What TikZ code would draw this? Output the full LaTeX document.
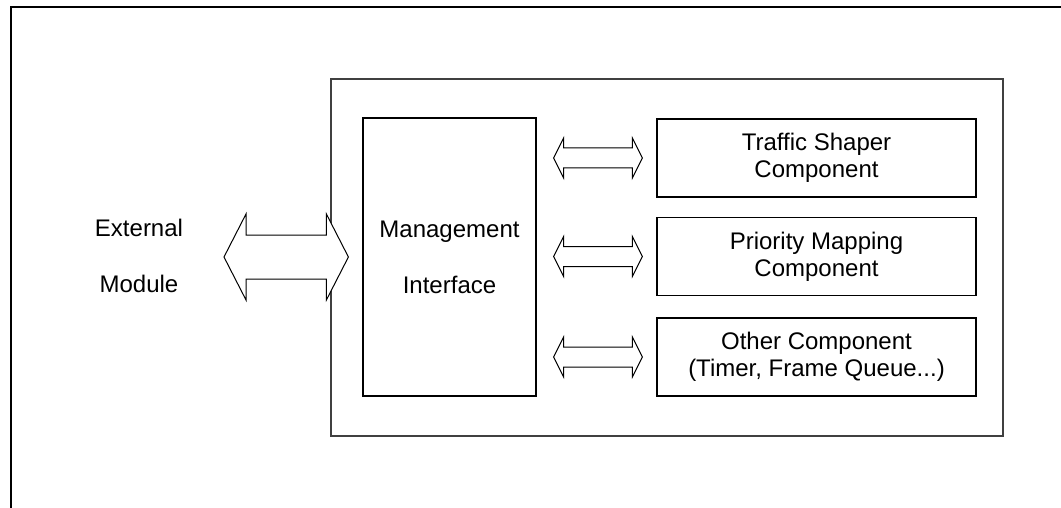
\documentclass[tikz,border=0pt]{standalone}
\usepackage{fontspec}
\setmainfont{Liberation Sans}
\usetikzlibrary{calc}

% Double-headed block arrow between two tip points:
% #1 left tip, #2 right tip, #3 shaft half-height, #4 head half-height, #5 head length
\newcommand\blkarrow[5]{%
  \draw[blockarrow] let \p1=(#1), \p2=(#2) in
    (\x1,\y1) -- (\x1+#5,\y1+#4) -- (\x1+#5,\y1+#3) -- (\x2-#5,\y1+#3)
    -- (\x2-#5,\y1+#4) -- (\x2,\y1) -- (\x2-#5,\y1-#4) -- (\x2-#5,\y1-#3)
    -- (\x1+#5,\y1-#3) -- (\x1+#5,\y1-#4) -- cycle;}

\tikzset{
  box/.style={draw=black, line width=1.2pt, rectangle, inner sep=0pt,
    align=center, font=\fontsize{24}{27}\selectfont},
  comp/.style={box, minimum width=319pt, minimum height=78pt},
  label/.style={align=center, font=\fontsize{24}{56}\selectfont},
  blockarrow/.style={draw=black, line width=1pt, line join=miter, fill=white},
}

\begin{document}
\begin{tikzpicture}[x=1pt, y=-1pt]
  \useasboundingbox (0,0) rectangle (1061,508);
  \clip (0,0) rectangle (1061,508);

  % page frame, its right and bottom sides run off the sheet
  \draw[line width=2.5pt] (11,540) -- (11,7) -- (1090,7);

  % enclosing module
  \node[draw=black!75, line width=1.3pt, minimum width=672pt, minimum height=357pt,
        inner sep=0pt] (module) at (667,257.5) {};

  % management interface
  \node[box, label, minimum width=173pt, minimum height=278pt] (mgmt) at (449.5,257)
    {Management\\Interface};

  % components
  \node[comp] (shaper) at (816.5,158) {Traffic Shaper\\Component};
  \node[comp] (prio)   at (816.5,256.5) {Priority Mapping\\Component};
  \node[comp] (other)  at (816.5,357) {Other Component\\(Timer, Frame Queue...)};

  % external side
  \node[label] (ext) at (139,256) {External\\Module};

  % arrow tips
  \coordinate (extR) at (224,257);
  \coordinate (mgmtL) at ($(mgmt.west)+(-14,0)$);
  \foreach \c in {shaper,prio,other}{
    \coordinate (\c A) at ($(mgmt.east |- \c.west)+(17,0)$);
    \coordinate (\c B) at ($(\c.west)+(-14,0)$);
  }

  % block arrows
  \blkarrow{extR}{mgmtL}{22pt}{43pt}{22pt}
  \blkarrow{shaperA}{shaperB}{10pt}{20pt}{10pt}
  \blkarrow{prioA}{prioB}{10pt}{20pt}{10pt}
  \blkarrow{otherA}{otherB}{10pt}{20pt}{10pt}
\end{tikzpicture}
\end{document}
